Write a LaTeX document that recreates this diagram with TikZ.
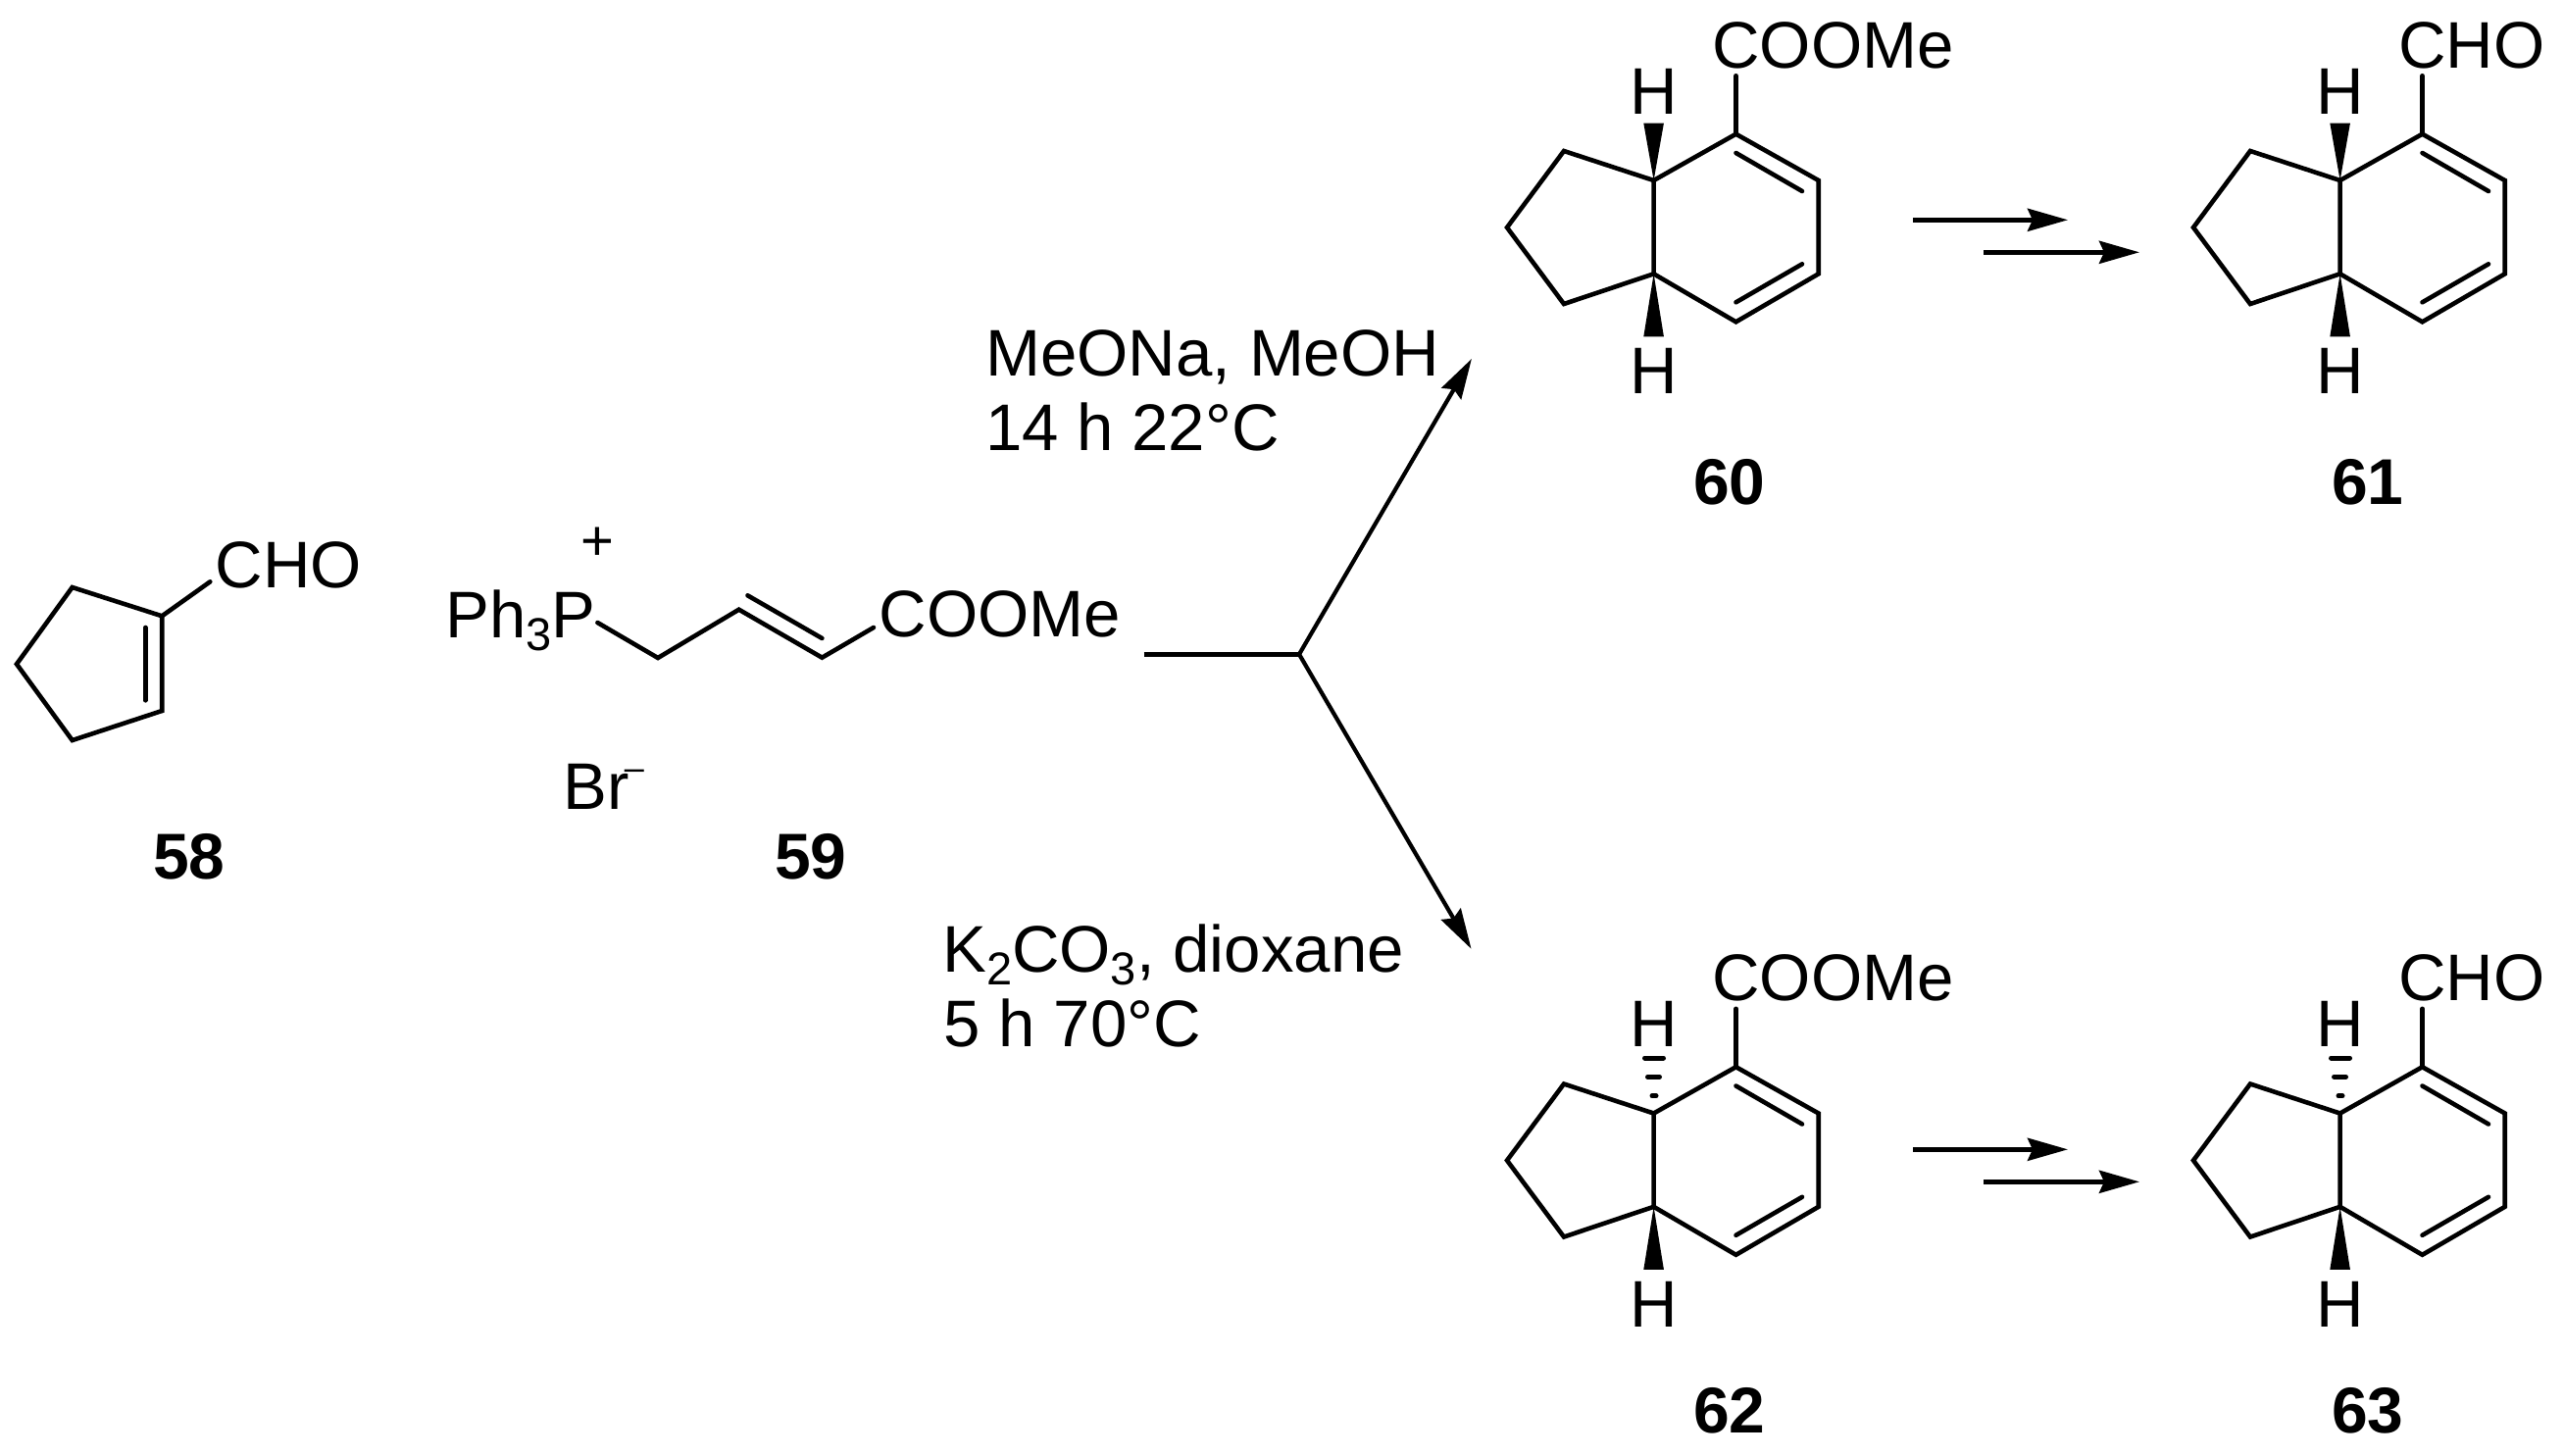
\documentclass[tikz,border=0pt]{standalone}
\usepackage{fontspec}
\setmainfont{Liberation Sans}
\usetikzlibrary{arrows.meta}
\newcommand\lowidx[1]{\raisebox{-13pt}{\fontsize{47}{47}\selectfont #1}}
\tikzset{
  bond/.style={line width=4.6pt,line cap=round,line join=miter,miter limit=10},
  innerbond/.style={line width=4.6pt,line cap=round},
  atomlabel/.style={font=\fontsize{67.2}{70}\selectfont,inner sep=0pt,anchor=base west},
  hatom/.style={font=\fontsize{67.2}{70}\selectfont,inner sep=0pt,anchor=base},
  idlabel/.style={font=\fontsize{66}{70}\selectfont\bfseries,inner sep=0pt,anchor=base west},
  condition/.style={font=\fontsize{67.2}{70}\selectfont,inner sep=0pt,anchor=base west},
  rxn/.style={line width=4.7pt,-{Stealth[length=41pt,width=23pt,inset=5pt]}},
  branch/.style={line width=4.2pt,-{Stealth[length=41pt,width=23pt,inset=5pt]}},
  stem/.style={line width=4.7pt},
  wedge/.style={fill=black,draw=none},
  hash/.style={line width=5pt,line cap=round}
}
% common hydrindadiene skeleton; #1 prefix, #2 shift, #3 substituent text
\newcommand\bicycbody[3]{%
  \begin{scope}[shift={#2}]
    \coordinate (#1a) at (1686.6,184);
    \coordinate (#1b) at (1686.6,279.3);
    \coordinate (#1c) at (1770.5,136.7);
    \coordinate (#1d) at (1854.7,184);
    \coordinate (#1e) at (1854.7,279.3);
    \coordinate (#1f) at (1770.5,328.3);
    \coordinate (#1g) at (1595,154);
    \coordinate (#1h) at (1537,232);
    \coordinate (#1i) at (1595,310);
    \coordinate (#1p) at (1770.5,156);
    \coordinate (#1q) at (1838,195);
    \coordinate (#1r) at (1770.5,308.3);
    \coordinate (#1s) at (1838,269.3);
    \coordinate (#1t) at (1770.5,77.3);
    \coordinate (#1w) at (1676.3,343.3);
    \coordinate (#1x) at (1696.9,343.3);
    \draw[bond] (#1a) -- (#1c) -- (#1d) -- (#1e) -- (#1f) -- (#1b) -- cycle;
    \draw[bond] (#1a) -- (#1g) -- (#1h) -- (#1i) -- (#1b);
    \draw[innerbond] (#1p) -- (#1q);
    \draw[innerbond] (#1r) -- (#1s);
    \draw[bond] (#1c) -- (#1t);
    \fill[wedge] (#1b) -- (#1w) -- (#1x) -- cycle;
    \node[atomlabel] (#1sub) at (1746.2,69) {#3};
    \node[hatom] (#1hup) at (1686.9,116) {H};
    \node[hatom] (#1hdn) at (1686.9,401.7) {H};
  \end{scope}}
\newcommand\topwedge[2]{%
  \begin{scope}[shift={#2}]
    \coordinate (#1u) at (1676.3,125.7);
    \coordinate (#1v) at (1696.9,125.7);
    \fill[wedge] (#1a) -- (#1u) -- (#1v) -- cycle;
  \end{scope}}
\newcommand\tophash[2]{%
  \begin{scope}[shift={#2}]
    \coordinate (#1h1l) at (1677.5,127.5); \coordinate (#1h1r) at (1696.5,127.5);
    \coordinate (#1h2l) at (1680.5,146.8); \coordinate (#1h2r) at (1692.5,146.8);
    \coordinate (#1h3l) at (1685,166.2); \coordinate (#1h3r) at (1689,166.2);
    \draw[hash] (#1h1l) -- (#1h1r);
    \draw[hash] (#1h2l) -- (#1h2r);
    \draw[hash] (#1h3l) -- (#1h3r);
  \end{scope}}
\begin{document}
\begin{tikzpicture}[x=1pt,y=-1pt]
\useasboundingbox (0,0) rectangle (2614,1484);
\fill[white] (0,0) rectangle (2614,1484);

% 58
\coordinate (ma) at (165.2,628.3);
\coordinate (mb) at (165.2,725);
\coordinate (mc) at (73.7,755);
\coordinate (md) at (17,677.3);
\coordinate (me) at (73.7,599);
\coordinate (mp) at (148.2,640);
\coordinate (mq) at (148.2,714.3);
\coordinate (mt) at (214.3,593.3);
\draw[bond] (ma) -- (mb) -- (mc) -- (md) -- (me) -- cycle;
\draw[innerbond] (mp) -- (mq);
\draw[bond] (ma) -- (mt);
\node[atomlabel] (cho58) at (219.5,599.5) {CHO};
\node[idlabel] (l58) at (156,896) {58};

% 59
\node[atomlabel] (pph) at (454,650) {Ph\lowidx{3}P};
\node[font=\fontsize{58}{60}\selectfont,inner sep=0pt] (plus) at (609.5,555) {+};
\node[atomlabel] (br) at (574.5,825) {Br\kern-5pt\raisebox{30pt}{\fontsize{36}{36}\selectfont –}};
\coordinate (w0) at (609.4,635);
\coordinate (w1) at (671,671);
\coordinate (w2) at (753.6,621.7);
\coordinate (w3) at (838.4,670.7);
\coordinate (w4) at (891,640);
\coordinate (w5) at (762.5,607.3);
\coordinate (w6) at (838.4,651);
\draw[bond] (w0) -- (w1) -- (w2) -- (w3) -- (w4);
\draw[innerbond] (w5) -- (w6);
\node[atomlabel] (coome59) at (896.7,649) {COOMe};
\node[idlabel] (l59) at (790,896) {59};

% branching arrows
\coordinate (s) at (1166.5,667.3);
\coordinate (j) at (1325,667.3);
\coordinate (up) at (1500.9,366);
\coordinate (dn) at (1500.5,967.7);
\draw[stem] (s) -- (j);
\draw[branch] (j) -- (up);
\draw[branch] (j) -- (dn);
\node[condition] (c1) at (1005,383) {MeONa, MeOH};
\node[condition] (c2) at (1005,459.3) {14 h 22°C};
\node[condition] (c3) at (961,991) {K\lowidx{2}CO\lowidx{3}, dioxane};
\node[condition] (c4) at (962.5,1067.7) {5 h 70°C};

% 60-63
\bicycbody{x}{(0,0)}{COOMe}
\topwedge{x}{(0,0)}
\bicycbody{y}{(700,0)}{CHO}
\topwedge{y}{(700,0)}
\bicycbody{u}{(0,951.5)}{COOMe}
\tophash{u}{(0,951.5)}
\bicycbody{v}{(700,951.5)}{CHO}
\tophash{v}{(700,951.5)}

% stepwise arrows
\coordinate (a1s) at (1951,224.3); \coordinate (a1e) at (2109,224.3);
\coordinate (a2s) at (2023.3,257.3); \coordinate (a2e) at (2182,257.3);
\coordinate (a3s) at (1951,1172.3); \coordinate (a3e) at (2109,1172.3);
\coordinate (a4s) at (2023.3,1205.3); \coordinate (a4e) at (2182,1205.3);
\draw[rxn] (a1s) -- (a1e);
\draw[rxn] (a2s) -- (a2e);
\draw[rxn] (a3s) -- (a3e);
\draw[rxn] (a4s) -- (a4e);

\node[idlabel] (l60) at (1727,514.5) {60};
\node[idlabel] (l61) at (2378,514.5) {61};
\node[idlabel] (l62) at (1727,1461) {62};
\node[idlabel] (l63) at (2378,1461) {63};
\end{tikzpicture}
\end{document}
